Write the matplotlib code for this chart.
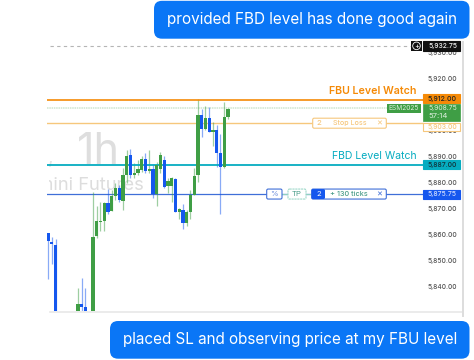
import matplotlib
matplotlib.use("Agg")
import matplotlib.pyplot as plt
from matplotlib.patches import FancyBboxPatch, Rectangle, Circle

plt.rcParams['font.family'] = ['Inter', 'DejaVu Sans']

# candle data
idx = [0, 1, 2, 8, 9, 10] + list(range(12, 49))
highs = [5860.75,5859.25,5858.5,5839.75,5843.5,5839.75,
         5876.5,5871.25,5872.75,5872.75,5877.75,5877.5,5880,5879.25,5885.75,
         5892.75,5893.25,5887.5,5888.75,5890.25,5891.5,5892.75,5887,5888,5892,
         5890.25,5881.75,5882.5,5881.75,5870.25,5871.75,5869.5,5877.25,5885.75,
         5912.25,5908.5,5909.75,5909.25,5903.5,5902.25,5898.75,5911,5908.75]
tops =  [5860.75,5857.5,5856.25,5833.5,5833.5,5832.5,
         5859.25,5865.5,5865.25,5872.5,5872.25,5875,5878,5878.25,5883,
         5890.5,5890.75,5884,5885.25,5889.25,5889.25,5885.25,5885.5,5887,5890.75,
         5888.75,5880.75,5881.75,5881.5,5870,5869.5,5868.75,5875.25,5882.75,
         5906.25,5906,5905,5905,5900.5,5900.25,5891.5,5905.5,5908.5]
bottoms=[5857.75,5856.5,5825,5825,5832.5,5825,
         5825,5859.5,5865.0,5865.25,5868.75,5869.25,5875,5873.5,5873.25,
         5883,5883,5883,5883.75,5885,5884.5,5884.5,5875.75,5875.75,5885.25,
         5878.5,5879,5878.75,5868.75,5868.75,5864.5,5864.5,5869,5875.25,
         5883,5900.75,5900.75,5899.75,5899.75,5891.5,5886,5886,5905.25]
lows =  [5843.25,5848.75,5820,5822,5825,5823,
         5822,5858.75,5861.5,5861.5,5868.25,5869.25,5873.5,5872.75,5869.75,
         5880,5881.75,5881.75,5883,5884.25,5883.75,5884,5874.25,5871,5884,
         5878,5876,5872.75,5868.75,5866.25,5862.5,5863.5,5866.25,5875.25,
         5880.5,5897.5,5900.5,5899.75,5894.25,5886,5868,5885.75,5904.5]
kinds = ["b","b","b","g","b","b",
         "g","g","g","g","b","g","g","b","g",
         "g","b","g","g","g","b","g","b","g","g",
         "b","g","g","b","g","b","g","g","g",
         "g","b","g","b","g","b","b","g","g"]

tick_prices = [5930, 5920, 5900, 5890, 5880, 5870, 5860, 5850, 5840]
fbu_level, last_price, stop_level, fbd_level, tp_level, high_mark = 5912.00, 5908.75, 5903.00, 5887.00, 5875.75, 5932.75
title_top = "provided FBD level has done good again"
title_bottom = "placed SL and observing price at my FBU level"

GREEN, BLUE = "#3f9e45", "#1557ee"
ORANGE, TEAL, LINE_BLUE = "#f58a07", "#06acc0", "#3f6fd8"
PALE_OR = "#f6c77c"
BUBBLE = "#0a76f6"
TXT_GREEN = "#4a9d8a"

W, H = 474, 360
fig = plt.figure(figsize=(W/100, H/100), dpi=100, facecolor="white")
L, R, T, B = 47, 463, 42, 311
ax = fig.add_axes([L/W, 1-B/H, (R-L)/W, (B-T)/H])
ax.set_xlim(-0.267, 110.67)
ax.set_ylim(5830.77, 5934.23)
ax.set_xticks([]); ax.set_yticks([])
ax.patch.set_visible(False)
for s in ("top", "left", "right", "bottom"):
    ax.spines[s].set_visible(False)

ov = fig.add_axes([0, 0, 1, 1], facecolor="none")
ov.set_xlim(0, W); ov.set_ylim(H, 0); ov.axis("off")
ax.set_zorder(2); ov.set_zorder(3)
bg = fig.add_axes([0, 0, 1, 1], facecolor="none")
bg.set_xlim(0, W); bg.set_ylim(H, 0); bg.axis("off"); bg.set_zorder(1)

renderer = fig.canvas.get_renderer()
def py(p):
    return H - ax.transData.transform((0, p))[1]

def fit(t, width):
    w = t.get_window_extent(renderer).width
    t.set_fontsize(t.get_fontsize() * width / w)
    return t

def price_text(x, y, s, **kw):
    t = ov.text(x, y, s, fontsize=5.6, va="center", **kw)
    return fit(t, 29)

# frame
bg.plot([50, 463], [311.5, 311.5], color="#e8e8e8", lw=1.2)
bg.plot([463.5, 463.5], [42, 316], color="#dddddd", lw=1.4)

# watermark
bg.text(77, 164, "1h", fontsize=31, color="#dedede", va="baseline", ha="left")
bg.text(51, 164, ",", fontsize=14, color="#e4e4e4", va="baseline", ha="center")
wm = bg.text(144, 190, "ini Futures", fontsize=14, color="#dddddd", ha="right", va="baseline")
fit(wm, 91)
wm.set_text("E-mini Futures")
wm.set_clip_path(Rectangle((49, 0), 200, H, transform=bg.transData))
wm.set_clip_on(True)

# level lines
def xf(px):
    return (px - L) / (R - L)
ax.axhline(high_mark, xmin=xf(50), xmax=xf(411), color="#b5b5b5", lw=0.8, ls=(0, (3, 3)))
ax.axhline(fbu_level, xmax=xf(423), color=ORANGE, lw=1.2, zorder=3)
ax.axhline(last_price, xmax=xf(387), color="#cfe6d0", lw=1.1, ls=(0, (1, 0.5)), zorder=1)
ax.axhline(stop_level, xmax=xf(423), color=PALE_OR, lw=1.0, zorder=1)
ax.axhline(fbd_level, xmax=xf(423), color=TEAL, lw=1.3, zorder=3)
ax.axhline(tp_level, xmax=xf(423), color=LINE_BLUE, lw=0.9, zorder=1)

# candles
for i, hi, tp, bt, lo, k in zip(idx, highs, tops, bottoms, lows, kinds):
    c = GREEN if k == "g" else BLUE
    ax.vlines(i, lo, hi, color=c, lw=0.9, alpha=0.5, zorder=2)
    ax.bar(i, tp-bt, bottom=bt, width=0.82, color=c, lw=0, zorder=4)

# price scale
for p in tick_prices:
    price_text(457, py(p), f"{p:,.2f}", color="#555555", ha="right", fontweight="medium", zorder=1)

def label(y, txt, bgc, fg, edge=None, h=9):
    ov.add_patch(Rectangle((423.5, y-h/2), 36.5, h, fc=bgc, ec=edge or bgc, lw=0.8, zorder=3))
    price_text(457, y, txt, color=fg, ha="right", fontweight="medium", zorder=4)

label(py(high_mark), "5,932.75", "#111111", "#f2f2f2", h=10)
ov.add_patch(Rectangle((411, py(high_mark)-5), 11, 10, fc="#111111", ec="none", zorder=3))
ov.add_patch(Circle((416.5, py(high_mark)), 3.8, fc="none", ec="white", lw=0.6, zorder=4))
ov.text(416.5, py(high_mark), "+", fontsize=5.5, color="white", ha="center", va="center", zorder=5)

label(py(fbu_level)-1, "5,912.00", ORANGE, "#222222")
yl = py(last_price)
ov.add_patch(Rectangle((423.5, yl-4.5), 36.5, 17.5, fc=GREEN, ec=GREEN, lw=0.5, zorder=3))
price_text(457, yl-0.5, "5,908.75", color="#dff0df", ha="right", zorder=4)
ov.text(428, yl+7.5, "57:14", fontsize=5.6, color="#dff0df", ha="left", va="center", zorder=4)
ov.add_patch(Rectangle((387.3, yl-4.5), 33.5, 9, fc=GREEN, ec="none", zorder=3))
fit(ov.text(404, yl, "ESM2025", fontsize=5.2, color="#dff0df", ha="center", va="center", zorder=4), 30)
label(126.7, "5,903.00", "white", PALE_OR, edge=PALE_OR, h=8)
label(py(fbd_level), "5,887.00", TEAL, "#12323a")
label(py(tp_level), "5,875.75", "#1557ee", "#cfdcff")

fit(ov.text(416.7, 91, "FBU Level Watch", fontsize=7.8, fontweight="semibold", color=ORANGE, ha="right", va="center", zorder=4), 87.4)
fit(ov.text(416.7, 156.3, "FBD Level Watch", fontsize=7.8, color=TEAL, ha="right", va="center", zorder=4), 84.7)

def tag(x0, x1, y, ec, fg=None, txt=None, h=10, fc="white", ls="-"):
    ov.add_patch(FancyBboxPatch((x0+1.5, y-h/2+1.5), x1-x0-3, h-3, boxstyle="round,pad=1.5",
                                fc=fc, ec=ec, lw=0.8, ls=ls, zorder=3))
    if txt:
        ov.text((x0+x1)/2, y, txt, fontsize=5.6, color=fg or ec, ha="center", va="center", zorder=4)

ys = py(stop_level)
tag(312.7, 386.3, ys, PALE_OR)
ov.text(319, ys, "2", fontsize=5.6, color=PALE_OR, ha="center", va="center", fontweight="medium", zorder=4)
fit(ov.text(349.4, ys, "Stop Loss", fontsize=5.6, color=PALE_OR, ha="center", va="center", fontweight="medium", zorder=4), 33.3)
ov.text(379.3, ys, "×", fontsize=6.5, color=PALE_OR, ha="center", va="center", zorder=4)

yt = py(tp_level)
ov.plot([282, 288], [yt, yt], color="#8fd0c0", lw=0.8, zorder=2)
ov.plot([306, 312], [yt, yt], color="#8fd0c0", lw=0.8, zorder=2)
tag(266.7, 282, yt, LINE_BLUE, fg="#6d8fdc", txt="%")
tag(288, 306, yt, "#9ed8ca", fg=TXT_GREEN, txt="TP", ls=(0, (2, 0.6)))
tag(311.7, 386.3, yt, LINE_BLUE)
ov.add_patch(FancyBboxPatch((313, yt-3.5), 10.5, 7, boxstyle="round,pad=1.5", fc="#1557ee", ec="none", zorder=4))
ov.text(318.5, yt, "2", fontsize=5.6, color="white", ha="center", va="center", zorder=5)
fit(ov.text(348.7, yt, "+ 130 ticks", fontsize=5.6, color=TXT_GREEN, ha="center", va="center", fontweight="medium", zorder=4), 37.3)
ov.text(379.3, yt, "×", fontsize=6.5, color=LINE_BLUE, ha="center", va="center", zorder=4)

# message bubbles
def bubble(x0, x1, y0, y1, txt, tx0, tx1):
    r = 8
    ov.add_patch(FancyBboxPatch((x0+r, y0+r), x1-x0-2*r, y1-y0-2*r, boxstyle=f"round,pad={r}",
                                fc=BUBBLE, ec="none", zorder=6))
    t = ov.text(tx1, (y0+y1)/2, txt, fontsize=11, color="white", ha="right", va="center", zorder=7)
    fit(t, tx1-tx0)

bubble(154, 469.5, 0.8, 38.7, title_top, 167, 457)
bubble(110, 469.5, 321, 358.7, title_bottom, 122.5, 457)

fig.savefig("out.png", dpi=100, facecolor="white")
